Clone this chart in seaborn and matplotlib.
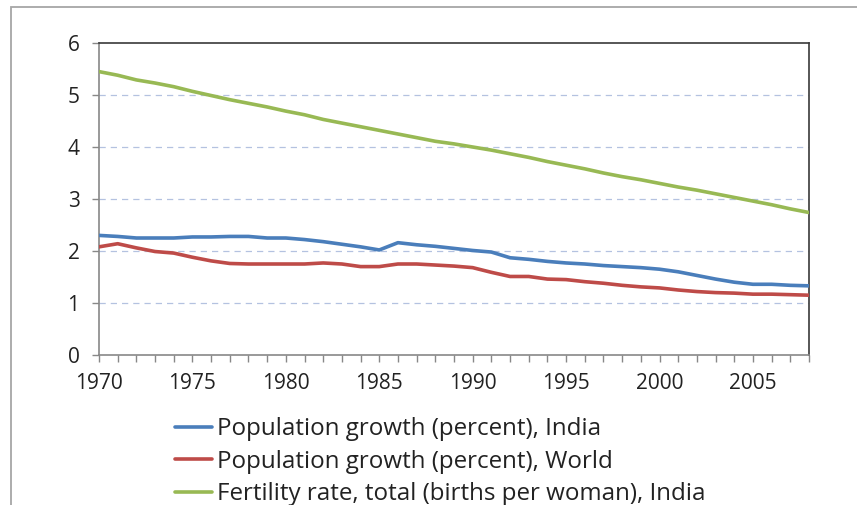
import matplotlib
matplotlib.use("Agg")
import matplotlib.pyplot as plt
from matplotlib.lines import Line2D
from matplotlib.patches import Rectangle
import pandas as pd
import seaborn as sns

years = list(range(1970, 2009))

pop_growth_india = [
    2.30, 2.28, 2.25, 2.25, 2.25, 2.27, 2.27, 2.28, 2.28, 2.25,
    2.25, 2.22, 2.18, 2.13, 2.08, 2.02, 2.16, 2.12, 2.09, 2.05,
    2.01, 1.98, 1.87, 1.84, 1.80, 1.77, 1.75, 1.72, 1.70, 1.68,
    1.65, 1.60, 1.53, 1.46, 1.40, 1.36, 1.36, 1.34, 1.33,
]

pop_growth_world = [
    2.08, 2.14, 2.06, 1.99, 1.96, 1.88, 1.81, 1.76, 1.75, 1.75,
    1.75, 1.75, 1.77, 1.75, 1.70, 1.70, 1.75, 1.75, 1.73, 1.71,
    1.68, 1.59, 1.51, 1.51, 1.46, 1.45, 1.41, 1.38, 1.34, 1.31,
    1.29, 1.25, 1.22, 1.20, 1.19, 1.17, 1.17, 1.16, 1.15,
]

fertility_india = [
    5.45, 5.38, 5.29, 5.23, 5.16, 5.07, 4.99, 4.91, 4.84, 4.77,
    4.69, 4.62, 4.53, 4.46, 4.39, 4.32, 4.25, 4.18, 4.11, 4.06,
    4.00, 3.94, 3.87, 3.80, 3.72, 3.65, 3.58, 3.50, 3.43, 3.37,
    3.30, 3.23, 3.17, 3.10, 3.03, 2.96, 2.89, 2.81, 2.74,
]

series_names = [
    "Population growth (percent), India",
    "Population growth (percent), World",
    "Fertility rate, total (births per woman), India",
]
series_colors = ["#4A7EBB", "#BE4B48", "#98B954"]

y_ticks = [0, 1, 2, 3, 4, 5, 6]
x_tick_labels = [1970, 1975, 1980, 1985, 1990, 1995, 2000, 2005]

df = pd.concat(
    [
        pd.DataFrame({"year": years, "value": vals, "series": name})
        for name, vals in zip(series_names,
                              [pop_growth_india, pop_growth_world, fertility_india])
    ],
    ignore_index=True,
)

sns.set_style("white")
plt.rcParams["font.family"] = ["Open Sans", "DejaVu Sans"]

fig = plt.figure(figsize=(8.57, 5.05), dpi=100)
ax = fig.add_axes([99 / 857, 1 - 355 / 505, 710 / 857, 312 / 505])

# outer chart frame (runs off the right and bottom edges)
fig.patches.append(Rectangle((11 / 857, -0.2), 2.0, 1 - 7 / 505 + 0.2,
                             transform=fig.transFigure, fill=False,
                             edgecolor="#a6a6a6", linewidth=1.3))

# dashed horizontal gridlines
for yv in y_ticks[1:-1]:
    ax.axhline(yv, color="#b4c2e0", linewidth=0.9, linestyle=(0, (5, 4)), zorder=1)

sns.lineplot(data=df, x="year", y="value", hue="series", palette=series_colors,
             hue_order=series_names, linewidth=2.6, legend=False, ax=ax, zorder=3)

ax.set_xlim(1970, 2008)
ax.set_ylim(0, 6)
ax.set_yticks(y_ticks)
ax.set_xticks(years, minor=True)
ax.set_xticks(x_tick_labels)
ax.set_xticklabels([str(v) for v in x_tick_labels])
ax.set_xlabel("")
ax.set_ylabel("")

ax.tick_params(axis="both", which="major", direction="out", length=5, width=1,
               color="#888888", labelsize=15, labelcolor="#222222", pad=6)
ax.tick_params(axis="x", which="minor", direction="out", length=5, width=1,
               color="#888888", bottom=True)
ax.tick_params(axis="x", which="major", bottom=True, pad=8)
ax.tick_params(axis="y", which="major", left=True, pad=9)

for side in ("left", "bottom"):
    ax.spines[side].set_color("#888888")
    ax.spines[side].set_linewidth(1.2)
for side in ("top", "right"):
    ax.spines[side].set_color("#3a3a3a")
    ax.spines[side].set_linewidth(1.2)
    ax.spines[side].set_visible(True)

handles = [Line2D([], [], color=c, linewidth=2.6) for c in series_colors]
fig.legend(handles, series_names, loc="upper left",
           bbox_to_anchor=(175 / 857, 1 - 417 / 505), frameon=False,
           fontsize=17.4, handlelength=1.55, handletextpad=0.17,
           labelspacing=0.36, borderaxespad=0, borderpad=0,
           labelcolor="#222222")

fig.savefig("out.png", dpi=100)
